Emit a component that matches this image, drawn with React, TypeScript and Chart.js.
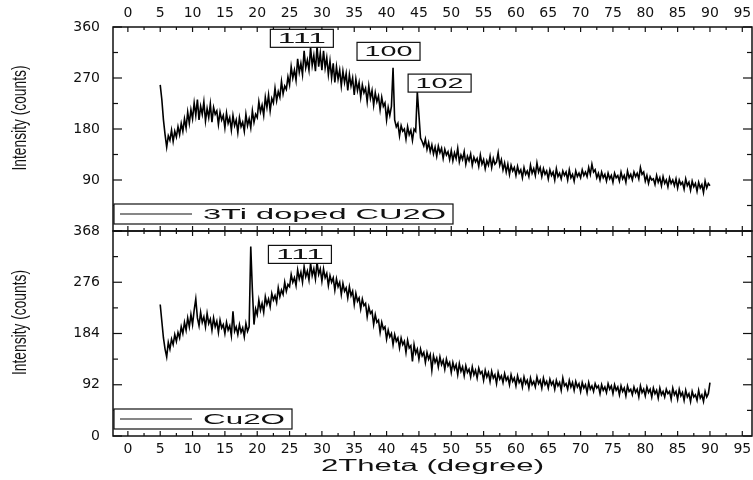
import React, { useEffect, useRef } from "react";
import { Chart, registerables } from "chart.js";

Chart.register(...registerables);

// Scan grid: 2Theta from 5 to 90 degrees, 0.25 degree step
const SCAN_START = 5;
const SCAN_STEP = 0.25;

// 3Ti doped Cu2O intensities (counts), one row = 5 degrees
const dopedCounts: number[] = [
  258, 232, 196, 170, 148, 168, 160, 178, 158, 176, 166, 184, 170, 190, 176, 198, 182, 210, 190, 214,
  198, 226, 204, 232, 196, 220, 206, 228, 194, 216, 200, 224, 192, 218, 206, 212, 188, 210, 196, 204,
  182, 208, 190, 200, 178, 204, 186, 196, 174, 200, 184, 192, 176, 206, 186, 198, 182, 212, 192, 206,
  200, 228, 210, 222, 204, 236, 218, 240, 212, 234, 226, 252, 230, 246, 236, 264, 242, 256, 250, 272,
  258, 290, 270, 284, 266, 304, 280, 296, 276, 318, 288, 302, 284, 324, 292, 310, 282, 326, 290, 314,
  284, 318, 288, 306, 276, 300, 270, 296, 262, 290, 268, 284, 256, 282, 262, 278, 248, 276, 256, 270,
  240, 268, 248, 262, 236, 258, 244, 252, 228, 256, 234, 248, 222, 244, 228, 238, 214, 236, 220, 226,
  196, 218, 204, 220, 288, 196, 184, 190, 168, 186, 176, 180, 162, 184, 170, 178, 160, 180, 176, 246,
  205, 164, 158, 150, 162, 144, 156, 140, 152, 136, 148, 132, 150, 138, 146, 128, 144, 134, 140, 126,
  142, 124, 138, 128, 146, 122, 134, 126, 140, 118, 132, 124, 136, 116, 130, 122, 128, 114, 134, 118,
  126, 110, 124, 116, 132, 112, 128, 118, 122, 138, 116, 126, 108, 120, 104, 118, 100, 116, 106, 112,
  98, 114, 102, 108, 94, 112, 100, 106, 96, 116, 102, 110, 98, 120, 104, 112, 96, 110, 100, 106,
  92, 108, 98, 104, 90, 110, 96, 102, 92, 106, 98, 104, 90, 108, 94, 100, 88, 106, 96, 102,
  94, 108, 98, 104, 96, 112, 100, 118, 104, 108, 94, 102, 90, 104, 94, 100, 88, 102, 92, 98,
  86, 102, 94, 98, 88, 104, 92, 98, 86, 106, 94, 100, 90, 104, 96, 102, 92, 112, 100, 104,
  88, 98, 84, 96, 90, 92, 82, 98, 86, 94, 80, 96, 84, 90, 78, 94, 84, 90, 80, 92,
  76, 90, 82, 86, 74, 92, 80, 86, 72, 88, 78, 84, 70, 86, 76, 82, 68, 88, 76, 84,
  80,
];

// Cu2O intensities (counts), one row = 5 degrees
const cu2oCounts: number[] = [
  236, 206, 176, 156, 142, 168, 156, 174, 164, 182, 170, 186, 176, 196, 184, 204, 190, 212, 196, 218,
  200, 226, 246, 212, 198, 222, 204, 214, 196, 220, 202, 210, 190, 212, 196, 206, 186, 208, 194, 200,
  184, 204, 190, 198, 180, 224, 188, 196, 182, 200, 186, 194, 178, 202, 188, 196, 340, 262, 200, 228,
  218, 244, 226, 238, 222, 250, 236, 246, 232, 256, 244, 252, 240, 266, 250, 262, 254, 276, 260, 272,
  268, 290, 276, 284, 270, 298, 282, 294, 276, 304, 286, 296, 280, 310, 288, 300, 282, 312, 290, 300,
  278, 300, 284, 292, 270, 288, 276, 284, 262, 282, 268, 276, 254, 274, 260, 266, 248, 268, 252, 260,
  236, 256, 242, 248, 228, 246, 234, 238, 214, 232, 220, 224, 200, 218, 204, 208, 186, 204, 192, 196,
  174, 190, 178, 184, 164, 182, 170, 176, 158, 176, 164, 170, 150, 172, 158, 162, 134, 164, 148, 156,
  138, 156, 144, 150, 132, 150, 138, 146, 118, 144, 132, 140, 124, 142, 128, 136, 120, 138, 126, 132,
  114, 132, 120, 128, 110, 130, 116, 124, 108, 126, 114, 120, 106, 124, 110, 118, 104, 122, 112, 116,
  100, 118, 106, 114, 98, 116, 104, 110, 94, 114, 102, 108, 96, 112, 100, 106, 92, 110, 98, 104,
  90, 108, 96, 102, 88, 106, 94, 100, 86, 104, 92, 98, 88, 106, 94, 100, 86, 104, 92, 98,
  86, 102, 92, 98, 84, 100, 90, 96, 82, 104, 90, 94, 84, 100, 88, 96, 82, 98, 88, 94,
  80, 96, 86, 92, 78, 96, 84, 90, 80, 94, 86, 90, 76, 92, 82, 88, 78, 94, 84, 90,
  76, 92, 82, 88, 74, 90, 80, 86, 72, 90, 80, 84, 74, 88, 78, 84, 70, 90, 78, 84,
  72, 88, 78, 84, 70, 86, 76, 82, 68, 86, 74, 80, 70, 84, 76, 80, 66, 86, 74, 80,
  66, 84, 72, 78, 64, 82, 70, 76, 62, 80, 70, 74, 64, 82, 68, 74, 62, 80, 70, 76,
  96,
];

const X_MIN = -2.3;
const X_MAX = 96.5;
const X_TICK_STEP = 5;
const X_TICK_LAST = 95;

const TOP_Y_MAX = 360;
const TOP_Y_STEP = 90;
const BOT_Y_MAX = 368;
const BOT_Y_STEP = 92;

const TOP_LABEL = "3Ti doped CU2O";
const BOT_LABEL = "Cu2O";
const Y_TITLE = "Intensity (counts)";
const X_TITLE = "2Theta (degree)";

// Peak annotations (Miller indices) at data coordinates
const topPeakLabels = ["111", "100", "102"];
const topPeakX = [26.9, 40.3, 48.2];
const topPeakY = [340, 317, 261];
const botPeakLabels = ["111"];
const botPeakX = [26.6];
const botPeakY = [326];

const INK = "#111";
const TICK_FONT = { family: "DejaVu Sans", size: 14 };
const TEXT_FAMILY = "Liberation Sans, Arial, sans-serif";

function toPoints(vals: number[]) {
  return vals.map((v, i) => ({ x: SCAN_START + i * SCAN_STEP, y: v }));
}

function fitText(ctx: CanvasRenderingContext2D, text: string, cx: number, cy: number, font: string, targetW: number, rotate = false) {
  ctx.save();
  ctx.font = font;
  const w = ctx.measureText(text).width;
  const s = targetW / w;
  ctx.translate(cx, cy);
  if (rotate) ctx.rotate(-Math.PI / 2);
  ctx.scale(s, 1);
  ctx.textAlign = "center";
  ctx.textBaseline = "middle";
  ctx.fillStyle = INK;
  ctx.fillText(text, 0, 0);
  ctx.restore();
}

const decoPlugin = {
  id: "deco",
  afterDraw(chart: any, _args: any, o: any) {
    const { ctx, chartArea: a, scales } = chart;
    const xs = scales.x;
    const ys = scales.y;
    ctx.save();
    ctx.strokeStyle = INK;
    ctx.lineWidth = 1.5;
    ctx.strokeRect(a.left, a.top, a.right - a.left, a.bottom - a.top);
    ctx.lineWidth = 1.2;
    const seg = (x1: number, y1: number, x2: number, y2: number) => {
      ctx.beginPath();
      ctx.moveTo(x1, y1);
      ctx.lineTo(x2, y2);
      ctx.stroke();
    };
    // x ticks (inward, top and bottom)
    for (let k = 0; k <= (X_TICK_LAST / X_TICK_STEP) * 2; k++) {
      const v = (k * X_TICK_STEP) / 2;
      const px = xs.getPixelForValue(v);
      const L = k % 2 === 0 ? 5 : 3;
      seg(px, a.top, px, a.top + L);
      seg(px, a.bottom, px, a.bottom - L);
    }
    // y ticks (inward, left and right)
    const n = Math.round((o.yMax / o.yStep) * 2);
    for (let k = 0; k <= n; k++) {
      const v = (k * o.yStep) / 2;
      const py = ys.getPixelForValue(v);
      const L = k % 2 === 0 ? 9 : 5;
      seg(a.left, py, a.left + L, py);
      seg(a.right, py, a.right - L, py);
    }
    // legend box
    const label = chart.data.datasets[0].label;
    const bx = a.left + 1;
    const by = a.bottom - 27;
    const bh = 20;
    ctx.lineWidth = 1.2;
    ctx.fillStyle = "#fff";
    ctx.fillRect(bx, by, o.legendW, bh);
    ctx.strokeRect(bx, by, o.legendW, bh);
    seg(bx + 6, by + bh / 2, bx + 78, by + bh / 2);
    const tw = o.legendW - 96;
    fitText(ctx, label, bx + 89 + tw / 2, by + bh / 2 + 0.5, `15px ${TEXT_FAMILY}`, tw);
    // peak annotations
    for (let i = 0; i < o.peakLabels.length; i++) {
      const cx = xs.getPixelForValue(o.peakX[i]);
      const cy = ys.getPixelForValue(o.peakY[i]);
      const w = 63;
      const h = 18;
      ctx.fillStyle = "#fff";
      ctx.fillRect(cx - w / 2, cy - h / 2, w, h);
      ctx.lineWidth = 1.2;
      ctx.strokeRect(cx - w / 2, cy - h / 2, w, h);
      fitText(ctx, o.peakLabels[i], cx, cy + 0.5, `15px ${TEXT_FAMILY}`, 48);
    }
    // y title
    fitText(ctx, Y_TITLE, 20, (a.top + a.bottom) / 2 - 11, `20px ${TEXT_FAMILY}`, 105, true);
    // x title
    if (o.xTitle) {
      fitText(ctx, X_TITLE, (a.left + a.right) / 2, a.bottom + 31, `16px ${TEXT_FAMILY}`, 223);
    }
    ctx.restore();
  },
};

function makeChart(canvas: HTMLCanvasElement, isTop: boolean) {
  const counts = isTop ? dopedCounts : cu2oCounts;
  const yMax = isTop ? TOP_Y_MAX : BOT_Y_MAX;
  const yStep = isTop ? TOP_Y_STEP : BOT_Y_STEP;
  return new Chart(canvas, {
    type: "line",
    data: {
      datasets: [
        {
          label: isTop ? TOP_LABEL : BOT_LABEL,
          data: toPoints(counts),
          borderColor: "#000",
          borderWidth: 1.6,
          pointRadius: 0,
          tension: 0,
          fill: false,
        },
      ],
    },
    options: {
      responsive: false,
      animation: false,
      devicePixelRatio: 1,
      layout: { padding: isTop ? { top: 0, right: 1, bottom: 1, left: 0 } : { top: 15, right: 1, bottom: 0, left: 0 } },
      plugins: {
        legend: { display: false },
        tooltip: { enabled: false },
        deco: {
          yMax,
          yStep,
          legendW: isTop ? 339 : 178,
          peakLabels: isTop ? topPeakLabels : botPeakLabels,
          peakX: isTop ? topPeakX : botPeakX,
          peakY: isTop ? topPeakY : botPeakY,
          xTitle: !isTop,
        },
      } as any,
      scales: {
        x: {
          type: "linear",
          position: isTop ? "top" : "bottom",
          min: X_MIN,
          max: X_MAX,
          grid: { display: false, drawTicks: false },
          border: { display: false },
          ticks: {
            stepSize: X_TICK_STEP,
            includeBounds: false,
            autoSkip: false,
            maxRotation: 0,
            padding: 5,
            color: INK,
            font: TICK_FONT,
          },
          afterFit: (s: any) => {
            s.height = isTop ? 27 : 44;
            s.paddingLeft = 0;
            s.paddingRight = 0;
          },
        },
        y: {
          type: "linear",
          min: 0,
          max: yMax,
          grid: { display: false, drawTicks: false },
          border: { display: false },
          ticks: {
            stepSize: yStep,
            padding: 13,
            color: INK,
            font: TICK_FONT,
            callback: (v: any) => (isTop && v === 0 ? "" : String(v)),
          },
          afterFit: (s: any) => {
            s.width = 113;
            s.paddingTop = 0;
            s.paddingBottom = 0;
          },
        },
      },
    } as any,
    plugins: [decoPlugin],
  });
}

export default function App() {
  const topRef = useRef<HTMLCanvasElement>(null);
  const botRef = useRef<HTMLCanvasElement>(null);

  useEffect(() => {
    const c1 = makeChart(topRef.current!, true);
    const c2 = makeChart(botRef.current!, false);
    return () => {
      c1.destroy();
      c2.destroy();
    };
  }, []);

  return (
    <div style={{ position: "fixed", left: 0, top: 0, width: 753, height: 480, background: "#fff", overflow: "hidden" }}>
      <canvas ref={botRef} width={753} height={264} style={{ position: "absolute", left: 0, top: 216 }} />
      <canvas ref={topRef} width={753} height={232} style={{ position: "absolute", left: 0, top: 0 }} />
    </div>
  );
}
